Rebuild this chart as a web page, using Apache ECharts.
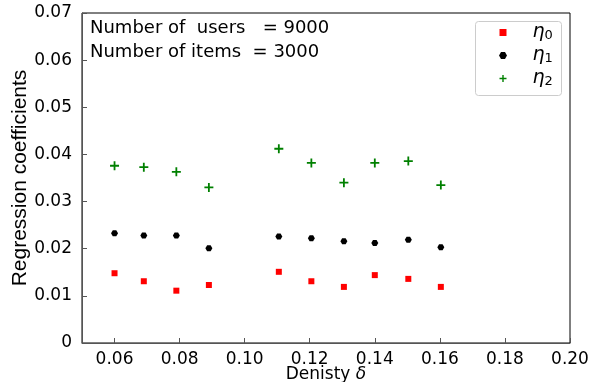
<!DOCTYPE html>
<html>
<head>
<meta charset="utf-8">
<script src="https://cdn.jsdelivr.net/npm/echarts@6/dist/echarts.min.js"></script>
<style>html,body{margin:0;padding:0;background:#fff}#c{width:603px;height:382px}</style>
</head>
<body>
<div id="c"></div>
<script>
const density = [0.06, 0.069, 0.079, 0.089, 0.1105, 0.1205, 0.1305, 0.14, 0.1503, 0.1603];
const eta0 = [0.0148, 0.0131, 0.0111, 0.0123, 0.0151, 0.0131, 0.0119, 0.0144, 0.0136, 0.0119];
const eta1 = [0.0233, 0.0228, 0.0228, 0.0201, 0.0226, 0.0222, 0.0216, 0.0212, 0.0219, 0.0203];
const eta2 = [0.0376, 0.0373, 0.0363, 0.0330, 0.0412, 0.0382, 0.0340, 0.0382, 0.0386, 0.0335];
const xTicks = [0.06, 0.08, 0.10, 0.12, 0.14, 0.16, 0.18, 0.20];
const yTicks = [0, 0.01, 0.02, 0.03, 0.04, 0.05, 0.06, 0.07];
const seriesNames = ['η0', 'η1', 'η2'];
const annotations = ['Number of  users   = 9000', 'Number of items  = 3000'];

const pair = (xs, ys) => xs.map((x, i) => [x, ys[i]]);
const FONT = 'DejaVu Sans';
const chart = echarts.init(document.getElementById('c'), null, {renderer: 'canvas'});
const plusPath = 'path://M3.2,0H4.8V3.2H8V4.8H4.8V8H3.2V4.8H0V3.2H3.2Z';
const hexPath = 'path://M2,0L6,0L8,3.5L6,7L2,7L0,3.5Z';
const sqPath = 'path://M0,0H1V1H0Z';

chart.setOption({
  animation: false,
  grid: {left: 82, right: 33, top: 13, bottom: 39, outerBoundsMode: 'none', containLabel: false, show: true, borderColor: '#000', borderWidth: 1, backgroundColor: 'transparent'},
  xAxis: {
    type: 'value', min: 0.05, max: 0.20,
    name: 'Denisty {d|δ}', nameLocation: 'middle', nameGap: 23, nameMoveOverlap: false,
    nameTextStyle: {fontFamily: FONT, fontSize: 17, color: '#000', rich: {d: {fontFamily: FONT, fontSize: 17, fontStyle: 'italic', color: '#000'}}},
    axisLine: {show: true, onZero: false, lineStyle: {color: '#555', width: 1}},
    axisTick: {show: true, inside: true, length: 5, customValues: xTicks, lineStyle: {color: '#555'}},
    axisLabel: {customValues: xTicks, fontFamily: FONT, fontSize: 17, color: '#000', margin: 8, formatter: v => v.toFixed(2)},
    splitLine: {show: false}
  },
  yAxis: {
    type: 'value', min: 0, max: 0.07, interval: 0.01,
    name: 'Regression coefficients', nameLocation: 'middle', nameGap: 51, nameMoveOverlap: false,
    nameTextStyle: {fontFamily: 'Liberation Sans', fontSize: 21, color: '#000'},
    axisLine: {show: true, lineStyle: {color: '#555', width: 1}},
    axisTick: {show: true, inside: true, length: 5, lineStyle: {color: '#555'}},
    axisLabel: {fontFamily: FONT, fontSize: 17, color: '#000', margin: 10, formatter: v => v === 0 ? '0' : v.toFixed(2)},
    splitLine: {show: false}
  },
  legend: {
    orient: 'vertical', left: 475, top: 23, z: 10,
    padding: [0, 8, 0, 24], itemGap: 4,
    itemWidth: 49, itemHeight: 7,
    data: seriesNames,
    formatter: n => '{e|η}{s|' + n.slice(1) + '}',
    textStyle: {
      fontFamily: FONT, color: '#000', lineHeight: 19, height: 19,
      rich: {
        e: {fontFamily: FONT, fontSize: 19, fontStyle: 'italic', color: '#000', verticalAlign: 'bottom', lineHeight: 19},
        s: {fontFamily: FONT, fontSize: 13, color: '#000', verticalAlign: 'bottom', lineHeight: 14}
      }
    }
  },
  graphic: [
    {type: 'rect', left: 475, top: 21, z: 5, shape: {width: 86, height: 74, r: 3}, style: {fill: '#fff', stroke: '#cccccc', lineWidth: 1}}
  ].concat(annotations.map((t, i) => ({
    type: 'text', left: 90, top: 19 + i * 24,
    style: {text: t, fontFamily: FONT, fontSize: 18, fill: '#000'}
  }))),
  series: [
    {name: seriesNames[0], type: 'scatter', data: pair(density, eta0), symbol: sqPath, symbolSize: 6, itemStyle: {color: '#ff0000', opacity: 1}},
    {name: seriesNames[1], type: 'scatter', data: pair(density, eta1), symbol: hexPath, symbolSize: [7, 6], itemStyle: {color: '#000', opacity: 1}},
    {name: seriesNames[2], type: 'scatter', data: pair(density, eta2), symbol: plusPath, symbolSize: 9, itemStyle: {color: '#008000', opacity: 1}}
  ]
});
</script>
</body>
</html>
